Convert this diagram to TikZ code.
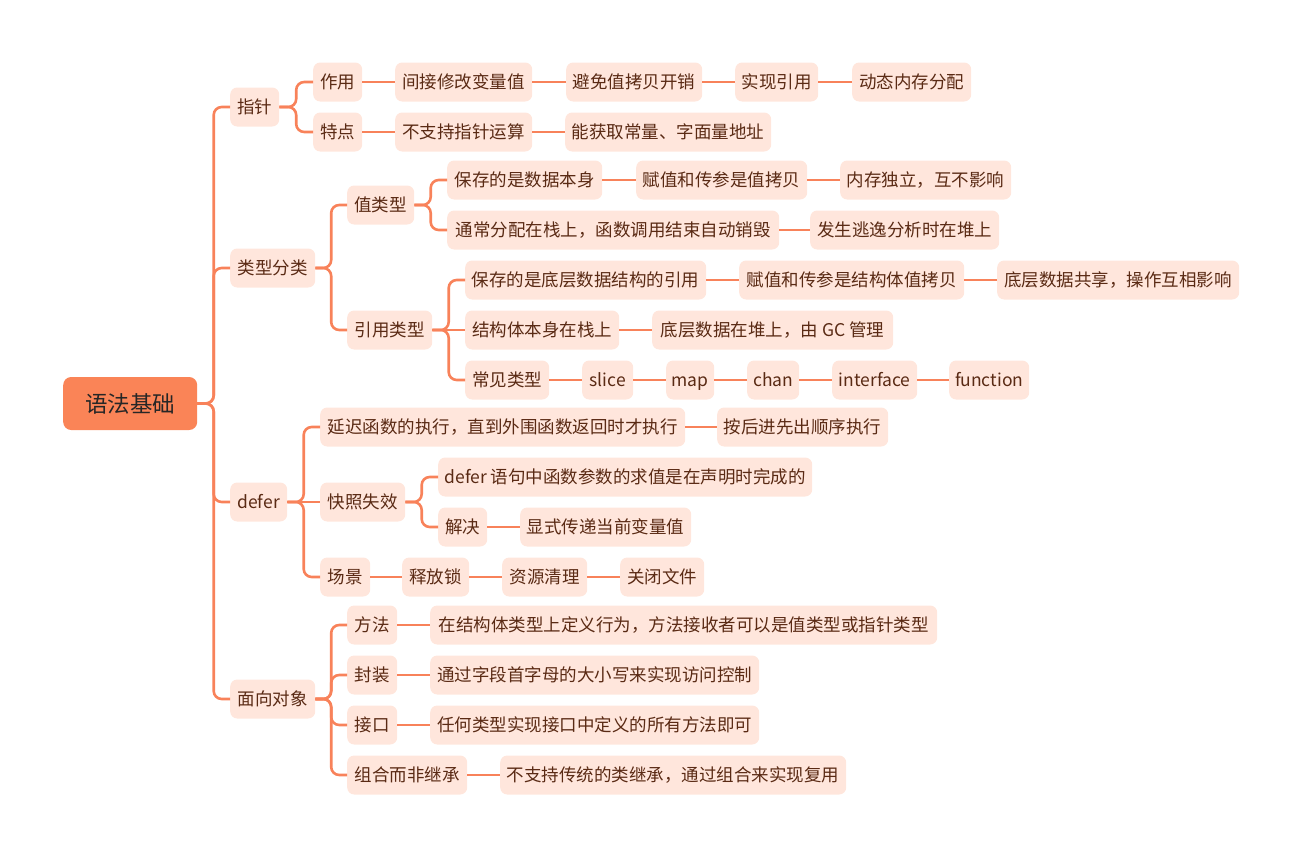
\documentclass[tikz,border=0pt]{standalone}
\usepackage{fontspec}
\setmainfont{Noto Sans CJK SC}
\usetikzlibrary{calc}
\definecolor{linec}{HTML}{F8825A}
\definecolor{rootfill}{HTML}{FA8457}
\definecolor{boxfill}{HTML}{FFE6DC}
\definecolor{txtc}{HTML}{5A2A14}
\tikzset{
  box/.style={fill=boxfill, rounded corners=7pt, minimum height=39pt, inner sep=0pt, anchor=west, text=txtc, text height=14.5pt, text depth=2pt, font=\fontsize{17.5}{21}\selectfont},
  rootbox/.style={fill=rootfill, rounded corners=8pt, minimum height=53pt, minimum width=134pt, inner sep=0pt, anchor=west, text=black!85, text height=19pt, text depth=2pt, font=\fontsize{22.5}{27}\selectfont},
  conn/.style={draw=linec, line width=2.6pt, rounded corners=8pt}
}
\newcommand\lnk[2]{\draw[conn] (#1.east) -- ($(#1.east)!0.5!(#1.east-|#2.west)$) |- (#2.west);}
\newcommand\strl[2]{\draw[conn] (#1.east) -- (#2.west);}
\begin{document}
\begin{tikzpicture}[x=1pt,y=-1pt]
\useasboundingbox (0,0) rectangle (1302,857);
\node[rootbox] (root) at (63,403.5) {语法基础};
\node[box,minimum width=49] (zz) at (230,107) {指针};
\node[box,minimum width=85] (lx) at (230,268) {类型分类};
\node[box,minimum width=57] (df) at (230,502) {defer};
\node[box,minimum width=85] (mx) at (230,699) {面向对象};
% pointer
\node[box,minimum width=49] (zy) at (313,82) {作用};
\node[box,minimum width=49] (td) at (313,132) {特点};
\node[box,minimum width=137] (a1) at (395,82) {间接修改变量值};
\node[box,minimum width=136] (a2) at (566,82) {避免值拷贝开销};
\node[box,minimum width=83] (a3) at (735,82) {实现引用};
\node[box,minimum width=119] (a4) at (852,82) {动态内存分配};
\node[box,minimum width=137] (b1) at (395,132) {不支持指针运算};
\node[box,minimum width=206] (b2) at (565,132) {能获取常量、字面量地址};
% types
\node[box,minimum width=67] (zlx) at (347,205) {值类型};
\node[box,minimum width=85] (yl) at (347,330) {引用类型};
\node[box,minimum width=155] (c1) at (447,180) {保存的是数据本身};
\node[box,minimum width=171] (c2) at (636,180) {赋值和传参是值拷贝};
\node[box,minimum width=171] (c3) at (840,180) {内存独立，互不影响};
\node[box,minimum width=332] (d1) at (447,230) {通常分配在栈上，函数调用结束自动销毁};
\node[box,minimum width=189] (d2) at (810,230) {发生逃逸分析时在堆上};
\node[box,minimum width=241] (e1) at (465,280) {保存的是底层数据结构的引用};
\node[box,minimum width=225] (e2) at (739,280) {赋值和传参是结构体值拷贝};
\node[box,minimum width=242] (e3) at (997,280) {底层数据共享，操作互相影响};
\node[box,minimum width=154] (f1) at (465,330) {结构体本身在栈上};
\node[box,minimum width=241] (f2) at (652,330) {底层数据在堆上，由 GC 管理};
\node[box,minimum width=84] (g1) at (465,380) {常见类型};
\node[box,minimum width=51] (g2) at (582,380) {slice};
\node[box,minimum width=48] (g3) at (666,380) {map};
\node[box,minimum width=52] (g4) at (747,380) {chan};
\node[box,minimum width=85] (g5) at (832,380) {interface};
\node[box,minimum width=80] (g6) at (949,380) {function};
% defer
\node[box,minimum width=365] (h1) at (320,427) {延迟函数的执行，直到外围函数返回时才执行};
\node[box,minimum width=171] (h2) at (717,427) {按后进先出顺序执行};
\node[box,minimum width=85] (kz) at (320,502) {快照失效};
\node[box,minimum width=374] (k1) at (438,477) {defer 语句中函数参数的求值是在声明时完成的};
\node[box,minimum width=49] (k2) at (438,527) {解决};
\node[box,minimum width=171] (k3) at (520,527) {显式传递当前变量值};
\node[box,minimum width=50] (cj) at (320,577) {场景};
\node[box,minimum width=67] (l1) at (402,577) {释放锁};
\node[box,minimum width=85] (l2) at (502,577) {资源清理};
\node[box,minimum width=84] (l3) at (620,577) {关闭文件};
% oop
\node[box,minimum width=50] (m1) at (347,625) {方法};
\node[box,minimum width=507] (m2) at (430,625) {在结构体类型上定义行为，方法接收者可以是值类型或指针类型};
\node[box,minimum width=50] (n1) at (347,675) {封装};
\node[box,minimum width=329] (n2) at (430,675) {通过字段首字母的大小写来实现访问控制};
\node[box,minimum width=50] (o1) at (347,725) {接口};
\node[box,minimum width=329] (o2) at (430,725) {任何类型实现接口中定义的所有方法即可};
\node[box,minimum width=120] (p1) at (347,775) {组合而非继承};
\node[box,minimum width=346] (p2) at (500,775) {不支持传统的类继承，通过组合来实现复用};
% connectors
\lnk{root}{zz}\lnk{root}{lx}\lnk{root}{df}\lnk{root}{mx}
\lnk{zz}{zy}\lnk{zz}{td}
\strl{zy}{a1}\strl{a1}{a2}\strl{a2}{a3}\strl{a3}{a4}
\strl{td}{b1}\strl{b1}{b2}
\lnk{lx}{zlx}\lnk{lx}{yl}
\lnk{zlx}{c1}\lnk{zlx}{d1}
\strl{c1}{c2}\strl{c2}{c3}\strl{d1}{d2}
\lnk{yl}{e1}\strl{yl}{f1}\lnk{yl}{g1}
\strl{e1}{e2}\strl{e2}{e3}\strl{f1}{f2}
\strl{g1}{g2}\strl{g2}{g3}\strl{g3}{g4}\strl{g4}{g5}\strl{g5}{g6}
\lnk{df}{h1}\strl{df}{kz}\lnk{df}{cj}
\strl{h1}{h2}
\lnk{kz}{k1}\lnk{kz}{k2}\strl{k2}{k3}
\strl{cj}{l1}\strl{l1}{l2}\strl{l2}{l3}
\lnk{mx}{m1}\lnk{mx}{n1}\lnk{mx}{o1}\lnk{mx}{p1}
\strl{m1}{m2}\strl{n1}{n2}\strl{o1}{o2}\strl{p1}{p2}
\end{tikzpicture}
\end{document}
